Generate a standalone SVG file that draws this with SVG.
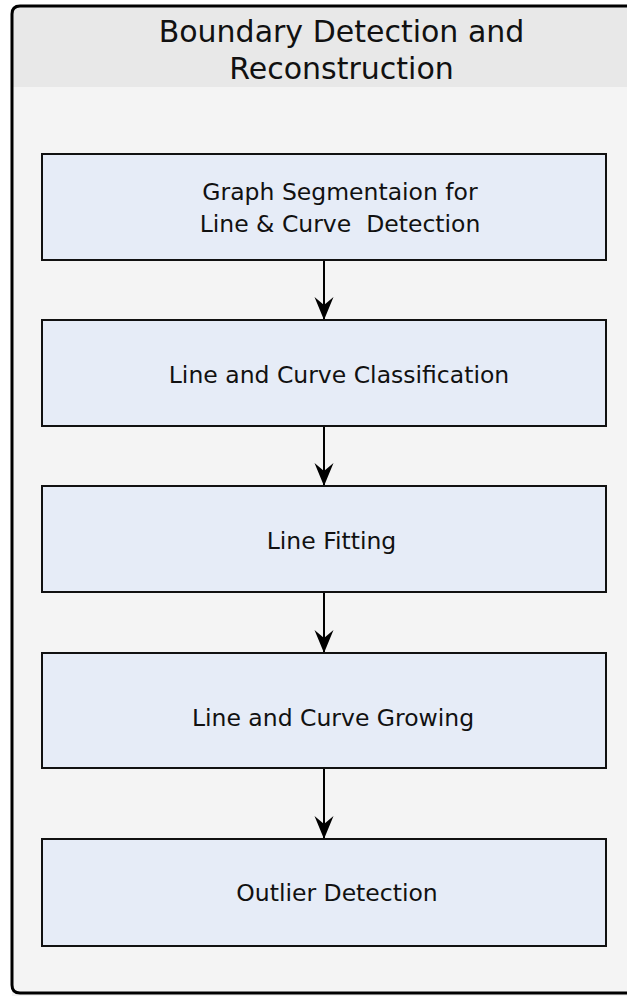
<svg xmlns="http://www.w3.org/2000/svg" width="627" height="996" viewBox="0 0 627 996">
<style>
.t{font-family:"DejaVu Sans",sans-serif;fill:#111;text-anchor:middle;white-space:pre}
.title{font-size:30px}
.lbl{font-size:23.5px}
.box{fill:#e6ecf7;stroke:#111;stroke-width:2}
.edge{stroke:#000;stroke-width:2;fill:none}
</style>
<defs>
<marker id="arr" markerUnits="userSpaceOnUse" markerWidth="23" markerHeight="20" refX="23" refY="10" orient="auto" viewBox="0 0 23 20">
<path d="M0,0.5 L23,10 L0,19.5 L8,10 Z" fill="#000"/>
</marker>
</defs>
<g id="container">
<path d="M12,1000 L12,14 Q12,6 20,6 L640,6 L640,1000 Z" fill="#f4f4f4"/>
<path d="M12,87 L12,14 Q12,6 20,6 L640,6 L640,87 Z" fill="#e8e8e8"/>
<path d="M640,6 L20,6 Q12,6 12,14 L12,985 Q12,993 20,993 L640,993" fill="none" stroke="#000" stroke-width="3"/>
<text class="t title" x="341.5" y="42">Boundary Detection and</text>
<text class="t title" x="341.5" y="79">Reconstruction</text>
</g>
<g id="connectors">
<line class="edge" x1="324" y1="260" x2="324" y2="320" marker-end="url(#arr)"/>
<line class="edge" x1="324" y1="426" x2="324" y2="486" marker-end="url(#arr)"/>
<line class="edge" x1="324" y1="592" x2="324" y2="653" marker-end="url(#arr)"/>
<line class="edge" x1="324" y1="768" x2="324" y2="839" marker-end="url(#arr)"/>
</g>
<g id="n1">
<rect class="box" x="42" y="154" width="564" height="106"/>
<text class="t lbl" x="340" y="200">Graph Segmentaion for</text>
<text class="t lbl" x="340" y="232">Line &amp; Curve  Detection</text>
</g>
<g id="n2">
<rect class="box" x="42" y="320" width="564" height="106"/>
<text class="t lbl" x="339" y="383">Line and Curve Classification</text>
</g>
<g id="n3">
<rect class="box" x="42" y="486" width="564" height="106"/>
<text class="t lbl" x="331.5" y="549">Line Fitting</text>
</g>
<g id="n4">
<rect class="box" x="42" y="653" width="564" height="115"/>
<text class="t lbl" x="333" y="726">Line and Curve Growing</text>
</g>
<g id="n5">
<rect class="box" x="42" y="839" width="564" height="107"/>
<text class="t lbl" x="337" y="901">Outlier Detection</text>
</g>
</svg>
